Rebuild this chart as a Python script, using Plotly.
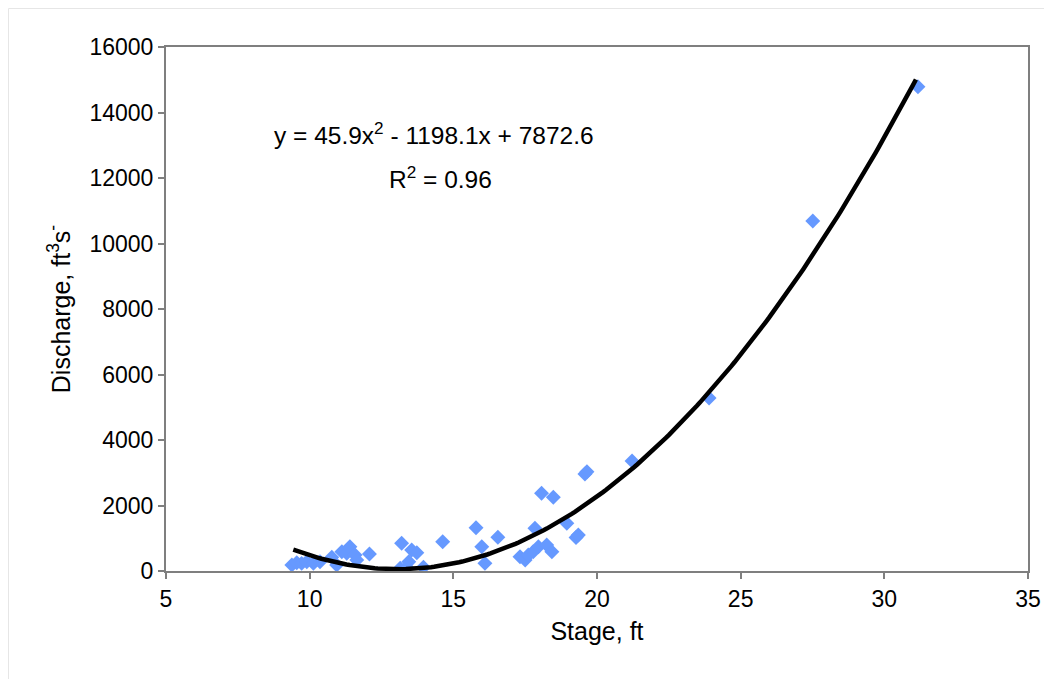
import numpy as np
import plotly.graph_objects as go

stage_ft = [9.38, 9.55, 9.72, 9.90, 10.13, 10.36, 10.77, 10.94, 11.12, 11.29,
            11.40, 11.58, 11.64, 12.08, 13.15, 13.20, 13.38, 13.45, 13.55, 13.73,
            13.96, 14.63, 15.79, 15.99, 16.10, 16.55, 17.32, 17.50, 17.61, 17.78,
            17.84, 17.96, 18.07, 18.25, 18.43, 18.48, 18.95, 19.27, 19.35, 19.58,
            19.65, 21.22, 23.90, 27.51, 31.17]
discharge = [183, 250, 233, 285, 233, 285, 417, 183, 590, 540,
             743, 488, 336, 519, 82, 845, 113, 285, 641, 560,
             113, 895, 1323, 742, 233, 1029, 437, 336, 488, 590,
             1303, 742, 2372, 794, 590, 2250, 1456, 1020, 1100, 2960,
             3030, 3358, 5282, 10686, 14786]

# Polynomial trendline coefficients shown on the chart
coef_a, coef_b, coef_c = 45.9, -1198.1, 7872.6
trend_x0, trend_x1 = 9.43, 31.1

x_ticks = [5, 10, 15, 20, 25, 30, 35]
y_ticks = [0, 2000, 4000, 6000, 8000, 10000, 12000, 14000, 16000]

tx = np.linspace(trend_x0, trend_x1, 200)
ty = coef_a * tx**2 + coef_b * tx + coef_c

FONT = "Liberation Sans, Arial, sans-serif"
AX = "#7f7f7f"

fig = go.Figure()
fig.add_trace(go.Scatter(
    x=stage_ft, y=discharge, mode="markers",
    marker=dict(symbol="diamond", size=11.5, color="#6699ff", line=dict(width=0)),
    showlegend=False, hoverinfo="x+y"))
fig.add_trace(go.Scatter(
    x=tx, y=ty, mode="lines", line=dict(color="black", width=4.5),
    showlegend=False, hoverinfo="skip"))

fig.update_layout(
    width=1044, height=671,
    margin=dict(l=158, r=24, t=39, b=108),
    paper_bgcolor="white", plot_bgcolor="white",
    font=dict(family=FONT, size=23, color="black"),
    xaxis=dict(range=[5, 35], tickvals=x_ticks, ticktext=[str(v) for v in x_ticks],
               showgrid=False, zeroline=False, showline=True, linecolor=AX,
               linewidth=2, mirror=True, ticks="outside", ticklen=6,
               tickcolor=AX, tickwidth=1.5,
               tickfont=dict(size=23),
               title=dict(text="Stage, ft", font=dict(size=25), standoff=12)),
    yaxis=dict(range=[0, 16000], tickvals=y_ticks, ticktext=[str(v) for v in y_ticks],
               showgrid=False, zeroline=False, showline=True, linecolor=AX,
               linewidth=2, mirror=True, ticks="outside", ticklen=6,
               tickcolor=AX, tickwidth=1.5,
               tickfont=dict(size=23),
               title=dict(text="Discharge, ft<sup>3</sup>s<sup>-</sup>",
                          font=dict(size=25), standoff=12)),
    annotations=[
        dict(x=14.33, y=13372, xref="x", yref="y", showarrow=False,
             text="y = 45.9x<sup>2</sup> - 1198.1x + 7872.6",
             font=dict(size=24.5, family=FONT)),
        dict(x=14.54, y=12029, xref="x", yref="y", showarrow=False,
             text="R<sup>2</sup> = 0.96", font=dict(size=24.5, family=FONT)),
    ],
    shapes=[dict(type="rect", xref="paper", yref="paper",
                 x0=-157.5 / 862, x1=(1100 - 158) / 862,
                 y0=-(700 - 563) / 524, y1=1 + 38.5 / 524,
                 line=dict(color="#e6e6e6", width=1), layer="below")],
)

fig.write_html("out.html")
